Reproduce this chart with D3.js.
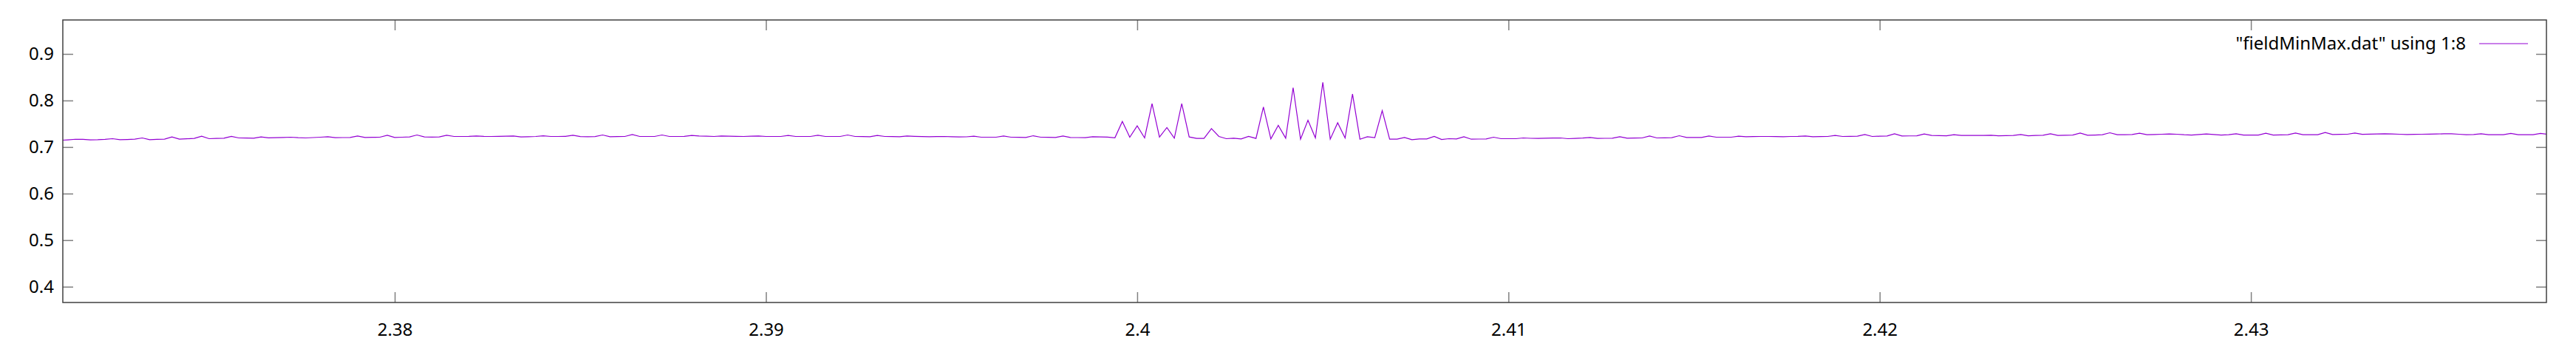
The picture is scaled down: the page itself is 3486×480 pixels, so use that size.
<!DOCTYPE html>
<html>
<head>
<meta charset="utf-8">
<script src="https://cdn.jsdelivr.net/npm/d3@7"></script>
<style>
  html, body { margin: 0; padding: 0; background: #fff; }
  svg { display: block; }
  text { font-family: "Noto Sans", "Open Sans", sans-serif; }
</style>
</head>
<body>
<svg id="chart" width="3486" height="480"></svg>
<script>
// ---- data ----
const seriesLabel = '"fieldMinMax.dat" using 1:8';
const xStart = 2.3710;      // first sample abscissa
const xStep = 0.0002;       // sampling step of the data file
const xDomain = [2.37106, 2.43796];
const yDomain = [0.3661, 0.9730];
const xTickValues = [2.38, 2.39, 2.40, 2.41, 2.42, 2.43];
const xTickLabels = ["2.38", "2.39", "2.4", "2.41", "2.42", "2.43"];
const yTickValues = [0.4, 0.5, 0.6, 0.7, 0.8, 0.9];
const yTickLabels = ["0.4", "0.5", "0.6", "0.7", "0.8", "0.9"];
const fieldValues = [
  0.7145,0.7155,0.7168,0.7165,0.7155,0.7157,0.7165,0.7180,0.7158,0.7163,
  0.7169,0.7196,0.7158,0.7165,0.7169,0.7217,0.7169,0.7178,0.7185,0.7233,
  0.7180,0.7186,0.7190,0.7228,0.7196,0.7193,0.7190,0.7217,0.7199,0.7201,
  0.7206,0.7212,0.7201,0.7196,0.7204,0.7212,0.7222,0.7201,0.7204,0.7206,
  0.7238,0.7206,0.7209,0.7212,0.7254,0.7206,0.7212,0.7217,0.7259,0.7217,
  0.7215,0.7217,0.7254,0.7228,0.7228,0.7230,0.7238,0.7230,0.7228,0.7230,
  0.7233,0.7238,0.7217,0.7222,0.7228,0.7243,0.7228,0.7228,0.7230,0.7254,
  0.7225,0.7222,0.7225,0.7259,0.7222,0.7225,0.7228,0.7270,0.7228,0.7228,
  0.7228,0.7259,0.7228,0.7228,0.7230,0.7249,0.7238,0.7233,0.7228,0.7238,
  0.7233,0.7230,0.7228,0.7233,0.7238,0.7228,0.7228,0.7228,0.7249,0.7228,
  0.7228,0.7228,0.7254,0.7228,0.7228,0.7228,0.7259,0.7228,0.7225,0.7222,
  0.7249,0.7228,0.7225,0.7222,0.7238,0.7230,0.7225,0.7222,0.7225,0.7228,
  0.7222,0.7217,0.7220,0.7233,0.7212,0.7212,0.7212,0.7238,0.7212,0.7209,
  0.7206,0.7243,0.7212,0.7209,0.7206,0.7238,0.7206,0.7204,0.7201,0.7222,
  0.7217,0.7214,0.7199,0.7550,0.7212,0.7455,0.7196,0.7931,0.7212,0.7419,
  0.7190,0.7931,0.7217,0.7185,0.7185,0.7396,0.7228,0.7180,0.7190,0.7174,
  0.7228,0.7185,0.7863,0.7174,0.7466,0.7190,0.8276,0.7169,0.7577,0.7196,
  0.8392,0.7169,0.7523,0.7196,0.8138,0.7169,0.7222,0.7201,0.7784,0.7169,
  0.7169,0.7206,0.7158,0.7174,0.7174,0.7228,0.7162,0.7180,0.7175,0.7222,
  0.7169,0.7172,0.7175,0.7212,0.7180,0.7180,0.7180,0.7196,0.7188,0.7185,
  0.7190,0.7193,0.7196,0.7180,0.7186,0.7193,0.7206,0.7185,0.7188,0.7190,
  0.7222,0.7190,0.7193,0.7196,0.7238,0.7196,0.7199,0.7201,0.7243,0.7206,
  0.7206,0.7206,0.7238,0.7212,0.7212,0.7212,0.7233,0.7222,0.7225,0.7228,
  0.7228,0.7225,0.7222,0.7228,0.7230,0.7238,0.7222,0.7225,0.7228,0.7249,
  0.7228,0.7230,0.7233,0.7270,0.7228,0.7233,0.7238,0.7286,0.7238,0.7240,
  0.7243,0.7281,0.7249,0.7246,0.7243,0.7265,0.7249,0.7249,0.7249,0.7249,
  0.7254,0.7243,0.7246,0.7249,0.7270,0.7243,0.7249,0.7254,0.7286,0.7249,
  0.7254,0.7259,0.7302,0.7254,0.7259,0.7265,0.7307,0.7265,0.7267,0.7270,
  0.7297,0.7265,0.7270,0.7275,0.7281,0.7275,0.7265,0.7259,0.7270,0.7281,
  0.7270,0.7259,0.7265,0.7286,0.7259,0.7259,0.7259,0.7297,0.7259,0.7262,
  0.7265,0.7302,0.7265,0.7265,0.7265,0.7313,0.7270,0.7272,0.7275,0.7302,
  0.7275,0.7278,0.7281,0.7286,0.7281,0.7275,0.7270,0.7272,0.7275,0.7278,
  0.7281,0.7284,0.7286,0.7275,0.7265,0.7270,0.7286,0.7265,0.7265,0.7265,
  0.7292,0.7265,0.7265,0.7265,0.7292,0.7275
];

// ---- layout ----
const W = 3486, H = 480;
const plot = { left: 85, right: 3446, top: 27, bottom: 409 };
const tickLen = 14;
const frameColor = "#404040";
const tickColor = "#808080";
const lineColor = "#9400d3";
const fontSize = 24;

const svg = d3.select("#chart");

const x = d3.scaleLinear().domain(xDomain).range([plot.left, plot.right]);
const y = d3.scaleLinear().domain(yDomain).range([plot.bottom, plot.top]);

const points = fieldValues.map((v, i) => ({ x: xStart + i * xStep, y: v }));

// clip
svg.append("defs").append("clipPath").attr("id", "clip")
  .append("rect")
  .attr("x", plot.left).attr("y", plot.top)
  .attr("width", plot.right - plot.left).attr("height", plot.bottom - plot.top);

function styleAxis(g, showText) {
  g.select(".domain").remove();
  g.selectAll(".tick line").attr("stroke", tickColor).attr("stroke-width", 1.5);
  g.selectAll(".tick text")
    .attr("fill", "#000")
    .style("font-size", fontSize + "px")
    .style("font-family", '"Noto Sans", "Open Sans", sans-serif');
  if (!showText) g.selectAll(".tick text").remove();
}

// Left axis
svg.append("g")
  .attr("transform", `translate(${plot.left},0)`)
  .call(d3.axisLeft(y).tickValues(yTickValues)
    .tickFormat((d, i) => yTickLabels[i]).tickSize(-tickLen).tickPadding(12))
  .call(g => styleAxis(g, true));

// Right mirror
svg.append("g")
  .attr("transform", `translate(${plot.right},0)`)
  .call(d3.axisRight(y).tickValues(yTickValues).tickSize(-tickLen))
  .call(g => styleAxis(g, false));

// Bottom axis
svg.append("g")
  .attr("transform", `translate(0,${plot.bottom})`)
  .call(d3.axisBottom(x).tickValues(xTickValues)
    .tickFormat((d, i) => xTickLabels[i]).tickSize(-tickLen).tickPadding(28))
  .call(g => styleAxis(g, true));

// Top mirror
svg.append("g")
  .attr("transform", `translate(0,${plot.top})`)
  .call(d3.axisTop(x).tickValues(xTickValues).tickSize(-tickLen))
  .call(g => styleAxis(g, false));

// Data line
svg.append("path")
  .datum(points)
  .attr("clip-path", "url(#clip)")
  .attr("fill", "none")
  .attr("stroke", lineColor)
  .attr("stroke-width", 1.2)
  .attr("stroke-linejoin", "miter")
  .attr("d", d3.line().x(d => x(d.x)).y(d => y(d.y)));

// Frame
svg.append("rect")
  .attr("x", plot.left).attr("y", plot.top)
  .attr("width", plot.right - plot.left).attr("height", plot.bottom - plot.top)
  .attr("fill", "none").attr("stroke", frameColor).attr("stroke-width", 1.5);

// Legend
const legendY = 59;
svg.append("text")
  .attr("x", 3337).attr("y", legendY)
  .attr("dy", "0.35em")
  .attr("text-anchor", "end")
  .style("font-size", fontSize + "px")
  .attr("fill", "#000")
  .text(seriesLabel);
svg.append("line")
  .attr("x1", 3355).attr("x2", 3421)
  .attr("y1", legendY).attr("y2", legendY)
  .attr("stroke", lineColor).attr("stroke-width", 1.2);
</script>
</body>
</html>
